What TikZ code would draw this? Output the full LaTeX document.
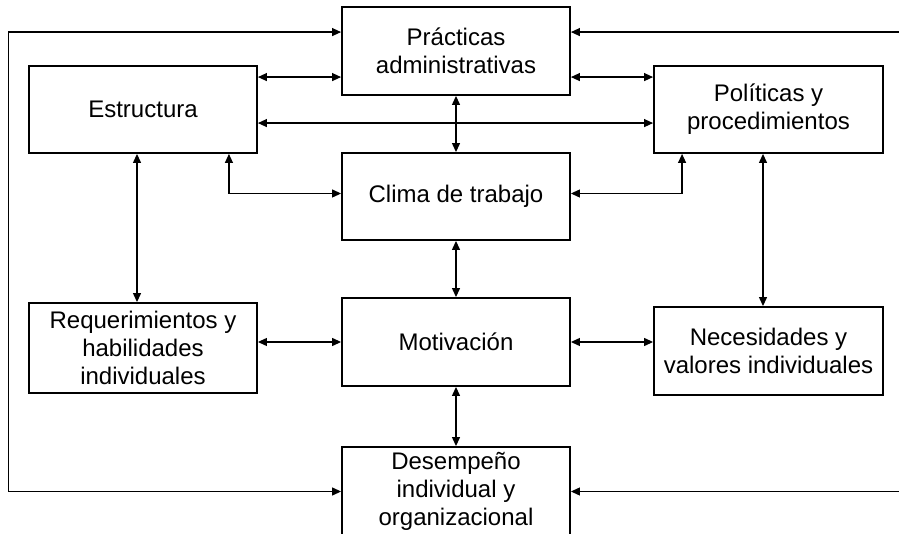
\documentclass[tikz,border=0pt]{standalone}
\usepackage{fontspec}
\setmainfont{Liberation Sans}
\usetikzlibrary{
    positioning,
    arrows.meta,
    calc
}

\begin{document}
\begin{tikzpicture}[x=0.75pt,y=-0.75pt,
		caja/.style={draw,line width=1.4pt,align=center,inner sep=0pt,minimum width=171pt,minimum height=66pt,font=\fontsize{18}{21}\selectfont},
		>={Triangle[length=6.75pt,width=6pt]},
		every path/.append style={line width=0.9pt}]
		\useasboundingbox (0,0) rectangle (899,534);
		\node[caja] (pract) at (456,51) {Prácticas\\administrativas};
		\node[caja,minimum height=65.25pt] (estr) at (143,109.5) {Estructura};
		\node[caja,minimum width=171.75pt,minimum height=65.25pt] (pol) at (768.5,109.5) {Políticas y\\procedimientos};
		\node[caja,minimum height=65.25pt] (clima) at (456,196.5) {Clima de trabajo};
		\node[caja,minimum height=67.5pt] (req) at (143,348) {Requerimientos y\\habilidades\\individuales};
		\node[caja] (motiv) at (456,342) {Motivación};
		\node[caja,minimum width=171.75pt] (nec) at (768.5,351) {Necesidades y\\valores individuales};
		\node[caja,minimum height=66.75pt] (desemp) at (456,491.5) {Desempeño\\individual y\\organizacional};
		\coordinate (bordeizq) at (8.5,0);
		\coordinate (bordeder) at (899,0);
		% lazo de retroalimentacion
		\draw[<->] ($(pract.north west)+(0,26)$) -| (bordeizq |- desemp.west) -- (desemp.west);
		\draw[->] (bordeder |- {$(pract.north east)+(0,26)$}) -- ($(pract.north east)+(0,26)$);
		\draw[->] (bordeder |- desemp.east) -- (desemp.east);
		% fila superior
		\draw[<->] ($(estr.north east)+(0,12)$) -- ($(pract.north west)+(0,71)$);
		\draw[<->] ($(pract.north east)+(0,71)$) -- ($(pol.north west)+(0,12)$);
		\draw[<->] ($(estr.north east)+(0,58)$) -- ($(pol.north west)+(0,58)$);
		\draw[<->] (pract) -- (clima);
		\draw[<->] ($(estr.south east)+(-29,0)$) |- ($(clima.west)+(0,-3)$);
		\draw[<->] ($(pol.south west)+(29,0)$) |- ($(clima.east)+(0,-3)$);
		% columnas
		\draw[<->] ($(estr.south)+(-6,0)$) -- ($(req.north)+(-6,0)$);
		\draw[<->] ($(pol.south)+(-5.5,0)$) -- ($(nec.north)+(-5.5,0)$);
		\draw[<->] (clima) -- (motiv);
		\draw[<->] (motiv) -- (desemp);
		% fila media
		\draw[<->] (req.east |- motiv.west) -- (motiv.west);
		\draw[<->] (motiv.east) -- (nec.west |- motiv.east);
	\end{tikzpicture}
\end{document}
